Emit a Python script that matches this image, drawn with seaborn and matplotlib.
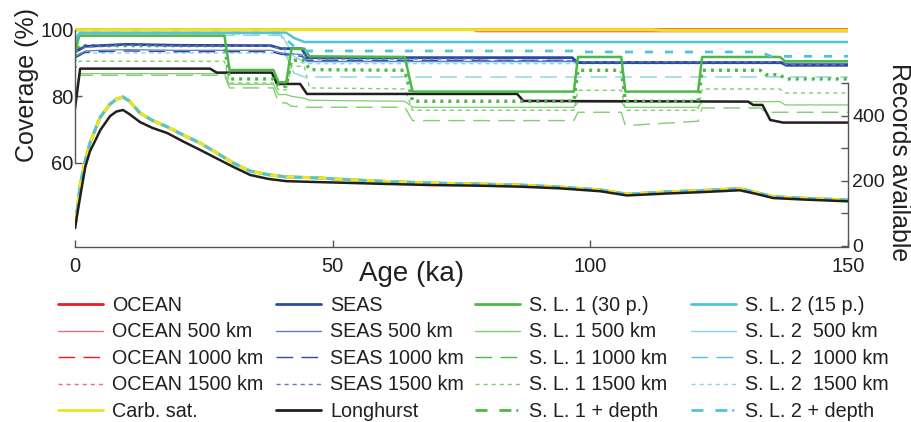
import matplotlib
matplotlib.use("Agg")
import matplotlib.pyplot as plt
from matplotlib.lines import Line2D
import seaborn as sns

# ---- data (age in ka, coverage in %, records count) ----
ocean_age = [0, 77, 78, 112, 114, 150]
ocean_cov = [100.1, 100.1, 100.1, 100.1, 100.1, 100.1]
ocean_500 = [100.0, 100.0, 99.4, 99.4, 99.4, 99.4]
ocean_1000 = [100.0, 100.0, 100.0, 100.0, 99.8, 99.8]
ocean_1500 = [100.0, 100.0, 100.0, 100.0, 99.9, 99.9]
carb_cov = [100.0, 100.0, 100.0, 100.0, 99.8, 99.8]

seas_age = [0, 2, 5, 10, 20, 38, 40, 44, 45, 78, 79, 96.5, 97.5, 137, 138, 150]
seas_cov = [93.3, 95.0, 95.2, 95.6, 95.3, 95.2, 94.3, 94.3, 91.6, 91.6, 91.6, 91.6, 90.1, 90.1, 89.3, 89.3]
seas_500 = [92.0, 93.6, 93.8, 94.0, 93.8, 93.8, 93.0, 92.5, 90.5, 90.5, 90.5, 90.5, 90.2, 90.2, 89.8, 89.8]
seas_1000 = [91.5, 93.2, 93.4, 93.6, 93.4, 93.4, 92.6, 92.0, 90.8, 90.8, 90.8, 90.8, 90.3, 90.3, 89.6, 89.6]
seas_1500 = [93.0, 94.8, 95.0, 95.4, 95.1, 95.0, 94.2, 94.0, 91.2, 91.2, 90.7, 90.7, 90.3, 90.3, 89.5, 89.5]

lh_age = [0, 1, 26.2, 27.5, 38.2, 39.2, 43.7, 45, 85.8, 87, 130.6, 131.6, 133.4, 134.9, 137.4, 150]
lh_cov = [76.2, 88.3, 88.3, 87.1, 87.1, 83.7, 83.7, 80.7, 80.7, 78.6, 78.4, 77.4, 77.4, 72.9, 72.1, 72.1]

sl1_age = [0, 0.8, 29, 30, 38.5, 39.5, 41, 42, 44.5, 45.5, 64, 65.5, 96.8, 97.6,
           106, 106.8, 120.9, 121.7, 133, 134, 136.8, 137.8, 150]
sl1_cov = [93.0, 98.2, 98.2, 87.9, 87.9, 84.2, 84.2, 94.3, 94.3, 92.0, 91.8, 81.4, 81.4, 91.8,
           91.8, 81.4, 81.4, 91.8, 91.8, 91.8, 91.8, 90.5, 90.5]
sl1_500 = [80.0, 86.8, 86.8, 83.6, 83.6, 80.5, 80.5, 80.0, 79.4, 78.8, 78.5, 76.7, 76.7, 78.2,
           78.2, 76.7, 76.7, 78.4, 78.4, 78.4, 78.4, 77.4, 77.4]
sl1_1000 = [78.0, 86.3, 86.3, 82.5, 82.5, 78.0, 78.0, 77.0, 76.8, 76.7, 76.7, 72.7, 72.7, 75.2,
            75.2, 71.2, 72.5, 76.5, 76.5, 75.2, 75.2, 75.2, 75.2]
sl1_1500 = [88.0, 90.5, 90.5, 84.0, 84.0, 82.0, 82.0, 89.0, 89.0, 82.5, 82.2, 75.8, 75.8, 81.8,
            81.8, 75.8, 75.8, 82.2, 82.2, 82.2, 82.2, 81.0, 81.0]
sl1_depth = [92.0, 95.2, 95.2, 85.2, 85.2, 83.0, 83.0, 90.8, 90.8, 88.0, 87.8, 78.5, 78.5, 87.8,
             87.8, 78.5, 78.5, 87.8, 87.8, 86.5, 86.5, 85.2, 85.2]

sl2_age = [0, 1, 40, 41, 42.5, 44.5, 78, 79, 97, 98, 133, 135, 150]
sl2_cov = [97.0, 99.1, 99.1, 99.1, 97.5, 96.3, 96.3, 96.3, 96.3, 96.3, 96.3, 96.3, 96.3]
sl2_500 = [96.0, 98.8, 98.8, 96.0, 92.0, 90.3, 90.3, 90.3, 90.3, 90.3, 90.3, 90.3, 90.3]
sl2_1000 = [95.0, 98.3, 98.3, 92.0, 87.0, 85.8, 85.8, 85.8, 85.8, 85.8, 85.8, 85.8, 85.8]
sl2_1500 = [90.0, 93.0, 93.0, 92.0, 91.0, 89.8, 89.8, 89.8, 89.8, 89.8, 89.8, 89.8, 89.8]
sl2_depth = [97.0, 99.0, 99.0, 97.0, 95.0, 93.6, 93.6, 93.6, 93.6, 93.3, 93.3, 92.0, 92.0]

rec_age = [0, 1, 2, 2.9, 4, 4.9, 6.8, 8, 9.3, 10.5, 12.6, 15, 17.9, 21, 24.3, 27.5, 30.7, 34,
           37.5, 41, 47.5, 50, 59, 69, 78.6, 86.4, 94, 101.9, 107.1, 114.9, 121.3, 129, 132.4,
           135.5, 142, 150]
rec_all = [54, 185, 262, 315, 360, 395, 435, 450, 457, 445, 408, 385, 365, 340, 315, 285, 254, 229,
           218, 211, 208, 205, 198, 192, 189, 186, 180, 171, 158, 165, 169, 175, 162,
           150, 145, 140]
rec_lh = [54, 150, 242, 290, 325, 355, 398, 412, 417, 405, 380, 362, 346, 320, 294, 268, 242, 217,
          205, 198, 195, 194, 190, 186, 184, 181, 176, 167, 154, 160, 164, 170, 158,
          146, 141, 136]

# ---- colours / styles ----
RED, PINK = "#ed1c24", "#f26d6d"
BLUE, LBLUE = "#2b4aa0", "#6279c0"
GREEN, LGREEN = "#4cb847", "#7fce6f"
CYAN, LCYAN = "#4fc4da", "#86d4e6"
YELLOW, BLACK = "#efe41d", "#231f20"

LONG = (0, (12, 6))
DOT = (0, (3, 2.8))

sns.set_theme(style="white")
plt.rcParams["font.family"] = ["Liberation Sans", "DejaVu Sans"]

fig = plt.figure(figsize=(9.12, 4.22), dpi=100)
ax = fig.add_axes([0.08224, 0.41469, 0.84759, 0.53318])
ax2 = ax.twinx()

# coverage lines on the left axis: (x, y, colour, width, style)
coverage = [
    (sl1_age, sl1_1000, LGREEN, 1.0, LONG),
    (sl1_age, sl1_500, LGREEN, 0.9, "-"),
    (sl1_age, sl1_1500, LGREEN, 1.0, DOT),
    (sl2_age, sl2_1000, LCYAN, 1.0, LONG),
    (sl2_age, sl2_1500, LCYAN, 1.0, DOT),
    (sl2_age, sl2_500, LCYAN, 0.9, "-"),
    (seas_age, seas_1000, BLUE, 1.0, LONG),
    (seas_age, seas_500, LBLUE, 0.9, "-"),
    (lh_age, lh_cov, BLACK, 1.8, "-"),
    (sl1_age, sl1_depth, GREEN, 2.4, (0, (0.9, 1.5))),
    (seas_age, seas_cov, BLUE, 2.0, "-"),
    (seas_age, seas_1500, LBLUE, 1.0, DOT),
    (sl1_age, sl1_cov, GREEN, 1.8, "-"),
    (sl2_age, sl2_depth, CYAN, 2.0, (0, (2.9, 4.3))),
    (sl2_age, sl2_cov, CYAN, 1.8, "-"),
    (ocean_age, ocean_1000, RED, 1.0, LONG),
    (ocean_age, ocean_1500, PINK, 1.0, DOT),
    (ocean_age, ocean_500, PINK, 1.0, "-"),
    (ocean_age, ocean_cov, RED, 1.8, "-"),
    (ocean_age, carb_cov, YELLOW, 2.2, "-"),
]
for x, y, c, lw, ls in coverage:
    sns.lineplot(x=x, y=y, ax=ax, color=c, linewidth=lw, linestyle=ls,
                 estimator=None, sort=False)

# records available on the right axis
records = [
    (rec_all, RED, 1.6, "-"),
    (rec_all, GREEN, 2.2, "-"),
    (rec_all, YELLOW, 2.2, "-"),
    (rec_all, CYAN, 2.0, (0, (2.9, 2.9))),
    (rec_lh, BLACK, 1.8, "-"),
]
for y, c, lw, ls in records:
    sns.lineplot(x=rec_age, y=y, ax=ax2, color=c, linewidth=lw, linestyle=ls,
                 estimator=None, sort=False)

# axes cosmetics
ax.set_xlim(0, 150)
ax.set_ylim(34.75, 102.3)
ax2.set_ylim(-4.6, 687.7)

spine_col = "#555555"
for a in (ax, ax2):
    for s in a.spines.values():
        s.set_visible(False)
        s.set_color(spine_col)
        s.set_linewidth(1.0)
ax.spines["left"].set_visible(True)
ax.spines["left"].set_bounds(60, 100)
ax.spines["bottom"].set_visible(True)
ax.spines["bottom"].set_bounds(0, 150)
ax2.spines["right"].set_visible(True)
ax2.spines["right"].set_bounds(0, 500)

ax.set_xticks([0, 50, 100, 150])
ax.set_yticks([60, 80, 100])
ax2.set_yticks([0, 100, 200, 300, 400, 500])
ax2.set_yticklabels(["0", "", "200", "", "400", ""])

tick_col = "#231f20"
ax.tick_params(axis="x", direction="in", length=5, width=1, color=spine_col,
               labelsize=14.5, labelcolor=tick_col, pad=7, bottom=True)
ax.tick_params(axis="y", direction="in", length=5, width=1, color=spine_col,
               labelsize=14.5, labelcolor=tick_col, pad=1, left=True)
ax2.tick_params(axis="y", direction="in", length=5, width=1, color=spine_col,
                labelsize=14, labelcolor=tick_col, pad=3, right=True)

ax.set_xlabel("Age (ka)", fontsize=20, color=tick_col)
ax.xaxis.set_label_coords(0.436, -0.06)
ax.set_ylabel("Coverage (%)", fontsize=18, color=tick_col)
ax.yaxis.set_label_coords(-0.047, 0.718)
ax2.set_ylabel("Records available", fontsize=18, color=tick_col, rotation=270, va="bottom")
ax2.yaxis.set_label_coords(1.051, 0.378)

# legend: four column blocks placed where the original has them
DEPTH = (0, (4.3, 4.3, 4.3, 1.8, 0.7, 1.8))
legend_cols = [
    (58, [("OCEAN", RED, 2.0, "-"),
          ("OCEAN 500 km", PINK, 1.0, "-"),
          ("OCEAN 1000 km", RED, 1.0, LONG),
          ("OCEAN 1500 km", PINK, 1.0, DOT),
          ("Carb. sat.", YELLOW, 2.0, "-")]),
    (276, [("SEAS", BLUE, 2.0, "-"),
           ("SEAS 500 km", LBLUE, 1.0, "-"),
           ("SEAS 1000 km", BLUE, 1.0, LONG),
           ("SEAS 1500 km", LBLUE, 1.0, DOT),
           ("Longhurst", BLACK, 2.0, "-")]),
    (475, [("S. L. 1 (30 p.)", GREEN, 2.0, "-"),
           ("S. L. 1 500 km", LGREEN, 1.0, "-"),
           ("S. L. 1 1000 km", GREEN, 1.0, LONG),
           ("S. L. 1 1500 km", LGREEN, 1.0, DOT),
           ("S. L. 1 + depth", GREEN, 2.0, DEPTH)]),
    (691, [("S. L. 2 (15 p.)", CYAN, 2.0, "-"),
           ("S. L. 2  500 km", LCYAN, 1.0, "-"),
           ("S. L. 2  1000 km", CYAN, 1.0, LONG),
           ("S. L. 2  1500 km", LCYAN, 1.0, DOT),
           ("S. L. 2 + depth", CYAN, 2.0, DEPTH)]),
]
for x0, items in legend_cols:
    handles = [Line2D([], [], color=c, linewidth=lw, linestyle=ls) for _, c, lw, ls in items]
    labels = [lab for lab, _, _, _ in items]
    leg = fig.legend(handles, labels, ncol=1, loc="upper left",
                     bbox_to_anchor=(x0 / 912, 1 - 296 / 422), frameon=False,
                     fontsize=14.2, handlelength=2.29, handletextpad=0.46,
                     labelspacing=0.38, borderpad=0, borderaxespad=0)
    for t in leg.get_texts():
        t.set_color(tick_col)

fig.savefig("out.png", dpi=100, facecolor="white")
